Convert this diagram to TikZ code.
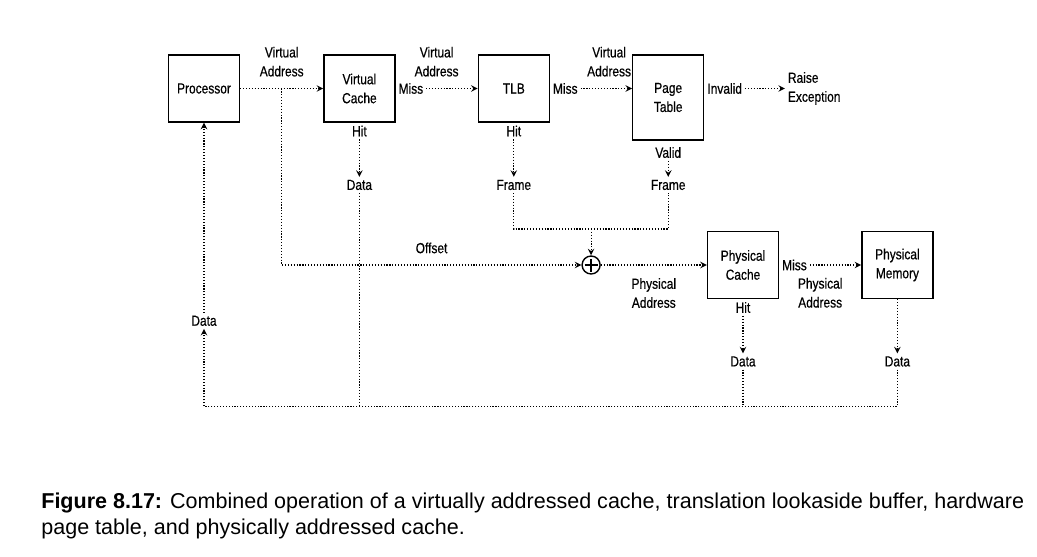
\documentclass[tikz,border=0pt]{standalone}
\usepackage{fontspec}
\setmainfont{Liberation Sans}
\newfontfamily\diagfont[FakeStretch=0.82, FakeBold=0.5]{Liberation Sans}
\usetikzlibrary{positioning}

\begin{document}
\begin{tikzpicture}[>=stealth, node distance=1.64cm,
  font=\diagfont\fontsize{8.3}{10.8}\selectfont,
  box/.style={draw, thick, minimum width=1.42cm, minimum height=1.34cm, align=center},
  lbl/.style={inner sep=1.5pt, align=center},
  link/.style={densely dotted, line width=0.65pt},
  adder/.style={circle, draw, thick, minimum size=0.36cm, inner sep=0pt,
    path picture={\draw[thick] (path picture bounding box.center) ++(-0.13,0) -- ++(0.26,0)
      (path picture bounding box.center) ++(0,-0.13) -- ++(0,0.26);}}]
  \useasboundingbox (0,0) rectangle (20.74,-11.14);

  % Virtual side
  \node[box] (proc) at (4.08,-1.77) {Processor};
  \node[box, right=1.66cm of proc] (vcache) {Virtual\\Cache};
  \node[box, right=of vcache] (tlb) {TLB};
  \node[box, minimum height=1.7cm, right=of tlb.north east, anchor=north west] (ptable) {Page\\Table};

  % Labels on the top row
  \path (proc) -- coordinate (split) node[lbl, above=0.18cm] (va1) {Virtual\\Address} (vcache);
  \path (vcache) -- node[lbl, above=0.18cm] (va2) {Virtual\\Address} (tlb);
  \path (tlb) -- node[lbl, above=0.18cm] (va3) {Virtual\\Address} (tlb -| ptable);
  \node[lbl, right=0pt of vcache] (vmiss) {Miss};
  \node[lbl, right=0pt of tlb] (tmiss) {Miss};
  \node[lbl, anchor=west] (pinv) at (ptable.east |- tlb.east) {Invalid};
  \node[lbl, right=0.8cm of pinv, align=left] (raise) {Raise\\Exception};

  % Hit / Valid results
  \node[lbl, below=0pt of vcache] (vhit) {Hit};
  \node[lbl, below=0.75cm of vhit] (vdata) {Data};
  \node[lbl, below=0pt of tlb] (thit) {Hit};
  \node[lbl, below=0.75cm of thit] (tframe) {Frame};
  \node[lbl, below=2pt of ptable] (pvalid) {Valid};
  \node[lbl] (pframe) at (ptable |- tframe) {Frame};

  % Physical side
  \node[box] (pcache) at (14.86,-5.3) {Physical\\Cache};
  \node[box, right=of pcache] (pmem) {Physical\\Memory};
  \node[adder, left=2.12cm of pcache] (adder) {};
  \node[lbl, right=0pt of pcache] (pcmiss) {Miss};
  \node[lbl, below=0pt of pcache] (pchit) {Hit};
  \node[lbl, below=0.75cm of pchit] (pcdata) {Data};
  \node[lbl] (pmdata) at (pmem |- pcdata) {Data};
  \node[lbl, below=3.8cm of proc] (pdata) {Data};

  % Flechas
  \draw[link, ->] (proc) -- (vcache);
  \draw[link, ->] (vmiss) -- (tlb);
  \draw[link, ->] (tmiss) -- (tlb -| ptable.west);
  \draw[link, ->] (pinv) -- (raise);
  \draw[link, ->] (vhit) -- (vdata);
  \draw[link, ->] (thit) -- (tframe);
  \draw[link, ->] (pvalid) -- (pframe);

  % Frame + offset
  \draw[link] (tframe) -- ++(0,-0.88) coordinate (fjoin) -| (pframe);
  \draw[link, ->] (fjoin -| adder) -- (adder);
  \draw[link, ->] (split) |- node[lbl, pos=0.75, above=0.17cm] (offset) {Offset} (adder);
  \draw[link, ->] (adder) -- node[lbl, below=0.2cm] (pa1) {Physical\\Address} (pcache);
  \draw[link, ->] (pcmiss) -- (pmem);
  \path (pcache) -- node[lbl, below=0.2cm] (pa2) {Physical\\Address} (pmem);
  \draw[link, ->] (pchit) -- (pcdata);
  \draw[link, ->] (pmem) -- (pmdata);

  % Data back to the processor
  \draw[link, ->] (pmdata) -- ++(0,-0.9) coordinate (bus) -| (pdata);
  \draw[link] (vdata) -- (vdata |- bus);
  \draw[link] (pcdata) -- (pcdata |- bus);
  \draw[link, ->] (pdata) -- (proc);

  % Caption
  \node[anchor=north west, align=left, inner sep=0pt, font=\rmfamily\fontsize{12.25}{14.8}\selectfont] (caption) at (0.82,-9.86)
    {\textbf{Figure 8.17:} Combined operation of a virtually addressed cache, translation lookaside buffer, hardware\\page table, and physically addressed cache.};
\end{tikzpicture}
\end{document}
